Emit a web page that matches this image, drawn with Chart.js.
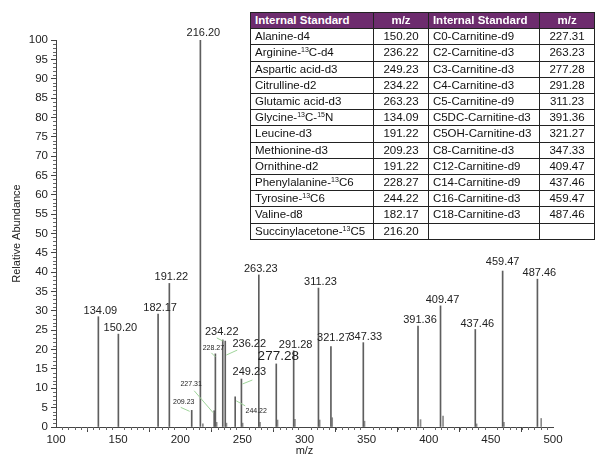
<!DOCTYPE html>
<html>
<head>
<meta charset="utf-8">
<script src="https://cdn.jsdelivr.net/npm/chart.js@4.4.1/dist/chart.umd.min.js"></script>
<style>
  html, body { margin: 0; padding: 0; background: #fff; }
  #wrap { position: relative; width: 595px; height: 462px; overflow: hidden; }
  #wrap canvas { position: absolute; left: 0; top: 0; }
  #stdTable {
    position: absolute; left: 250px; top: 12px;
    border-collapse: collapse; table-layout: fixed;
    font-family: "Liberation Sans", Arial, sans-serif; font-size: 11.5px; color: #111;
    border: 1.5px solid #222;
  }
  #stdTable th, #stdTable td {
    border: 1px solid #222; padding: 0 4px; height: 15.2px; line-height: 15.2px;
    white-space: nowrap; overflow: hidden;
  }
  #stdTable th { background: #6d2c6e; color: #fff; font-weight: bold; text-align: left; }
  #stdTable th.num, #stdTable td.num { text-align: center; }
  #stdTable sup { font-size: 7px; line-height: 0; vertical-align: 4px; }
</style>
</head>
<body>
<div id="wrap">
  <canvas id="chart" width="595" height="462"></canvas>
  <table id="stdTable">
    <colgroup><col style="width:125px"><col style="width:60px"><col style="width:113px"><col style="width:60px"></colgroup>
    <thead><tr><th>Internal Standard</th><th class="num">m/z</th><th>Internal Standard</th><th class="num">m/z</th></tr></thead>
    <tbody></tbody>
  </table>
</div>
<script>
// spectrum peaks (m/z, relative abundance)
const peakMz    = [134.09, 150.20, 182.17, 191.22, 209.23, 216.20, 227.31, 228.27, 234.22, 236.22, 244.22, 249.23,
                   263.23, 277.28, 291.28, 311.23, 321.27, 347.33, 391.36, 409.47, 437.46, 459.47, 487.46];
const peakAbund = [28.5, 24.0, 29.2, 37.1, 4.3, 100, 4.2, 18.9, 22.5, 22.2, 7.8, 12.4,
                   39.3, 16.3, 19.7, 35.9, 20.8, 21.8, 26.1, 31.3, 25.2, 40.3, 38.2];

// small unlabelled isotope / noise peaks
const noiseMz    = [218.2, 229.3, 237.2, 250.2, 264.2, 278.3, 292.3, 312.2, 322.3, 348.3, 393.4, 411.5, 438.5, 460.5, 490.5];
const noiseAbund = [0.8, 1.2, 1.0, 1.0, 1.2, 1.8, 2.0, 1.8, 2.4, 1.5, 1.9, 2.8, 0.8, 1.2, 2.2];

// table of internal standards
const aminoNames = ['Alanine-d4', 'Arginine-<sup>13</sup>C-d4', 'Aspartic acid-d3', 'Citrulline-d2', 'Glutamic acid-d3',
                    'Glycine-<sup>13</sup>C-<sup>15</sup>N', 'Leucine-d3', 'Methionine-d3', 'Ornithine-d2',
                    'Phenylalanine-<sup>13</sup>C6', 'Tyrosine-<sup>13</sup>C6', 'Valine-d8', 'Succinylacetone-<sup>13</sup>C5'];
const aminoMz    = ['150.20', '236.22', '249.23', '234.22', '263.23', '134.09', '191.22', '209.23', '191.22',
                    '228.27', '244.22', '182.17', '216.20'];
const carnNames  = ['C0-Carnitine-d9', 'C2-Carnitine-d3', 'C3-Carnitine-d3', 'C4-Carnitine-d3', 'C5-Carnitine-d9',
                    'C5DC-Carnitine-d3', 'C5OH-Carnitine-d3', 'C8-Carnitine-d3', 'C12-Carnitine-d9',
                    'C14-Carnitine-d9', 'C16-Carnitine-d3', 'C18-Carnitine-d3', ''];
const carnMz     = ['227.31', '263.23', '277.28', '291.28', '311.23', '391.36', '321.27', '347.33', '409.47',
                    '437.46', '459.47', '487.46', ''];

// label placement: offset of text centre from peak top, optional green leader line
const labelLayout = {
  '209.23': { size: 7, dx: -8, dy: -8, leader: [-11, -3, -2, 1] },
  '227.31': { size: 7, dx: -23, dy: -27, leader: [-20, -20, -1, 2] },
  '228.27': { size: 7, dx: -2, dy: -6, leader: [-4, -1, 0, 3] },
  '234.22': { dx: -1, dy: -8, leader: [-6, -2, 0, 1] },
  '236.22': { dx: 24, dy: 3, leader: [12, 9, 1, 14] },
  '244.22': { size: 7, dx: 21, dy: 14, leader: [1, 4, 10, 9] },
  '249.23': { dx: 8, dy: -7, leader: [1, 5, 11, 1] },
  '277.28': { size: 13.5, dx: 2, dy: -8 },
  '321.27': { dx: 3, dy: -9 },
  '459.47': { dx: 0, dy: -9 },
  '216.20': { dx: 3, dy: -7 },
};

const tbody = document.querySelector('#stdTable tbody');
aminoNames.forEach((n, i) => {
  const tr = document.createElement('tr');
  tr.innerHTML = `<td>${n}</td><td class="num">${aminoMz[i]}</td><td>${carnNames[i]}</td><td class="num">${carnMz[i]}</td>`;
  tbody.appendChild(tr);
});

const FONT = '"Liberation Sans", Arial, sans-serif';

const minorTicks = {
  id: 'minorTicks',
  afterDraw(chart) {
    const { ctx, scales: { x, y } } = chart;
    ctx.save();
    ctx.strokeStyle = '#666';
    ctx.lineWidth = 1;
    ctx.beginPath();
    for (let v = 0; v <= 100; v++) {
      if (v % 5 === 0) continue;
      const py = Math.round(y.getPixelForValue(v)) + 0.5;
      ctx.moveTo(x.left - 3, py); ctx.lineTo(x.left, py);
    }
    for (let v = 100; v <= 500; v += 5) {
      if (v % 50 === 0) continue;
      const px = Math.round(x.getPixelForValue(v)) + 0.5;
      ctx.moveTo(px, y.bottom); ctx.lineTo(px, y.bottom + 3);
    }
    ctx.stroke();
    ctx.restore();
  }
};

const peakLabels = {
  id: 'peakLabels',
  afterDatasetsDraw(chart) {
    const { ctx } = chart;
    const meta = chart.getDatasetMeta(0);
    ctx.save();
    meta.data.forEach((bar, i) => {
      const key = peakMz[i].toFixed(2);
      const lay = labelLayout[key] || {};
      const px = bar.x, py = bar.y;
      if (lay.leader) {
        const l = lay.leader;
        ctx.strokeStyle = '#9fd49a';
        ctx.lineWidth = 1;
        ctx.beginPath();
        ctx.moveTo(px + l[0], py + l[1]);
        ctx.lineTo(px + l[2], py + l[3]);
        ctx.stroke();
      }
      ctx.fillStyle = '#222';
      ctx.font = `${lay.size || 11}px ${FONT}`;
      ctx.textAlign = 'center';
      ctx.textBaseline = 'middle';
      ctx.fillText(key, px + (lay.dx ?? 2), py + (lay.dy ?? -6));
    });
    ctx.restore();
  }
};

new Chart(document.getElementById('chart'), {
  type: 'bar',
  data: {
    datasets: [
      { data: peakMz.map((m, i) => ({ x: m, y: peakAbund[i] })), backgroundColor: '#5e5e5e', barThickness: 1, grouped: false },
      { data: noiseMz.map((m, i) => ({ x: m, y: noiseAbund[i] })), backgroundColor: '#8a8a8a', barThickness: 1, grouped: false },
    ]
  },
  options: {
    responsive: false,
    animation: false,
    layout: { padding: { top: 40, right: 42, left: 0, bottom: 0 } },
    plugins: { legend: { display: false }, tooltip: { enabled: false } },
    scales: {
      x: {
        type: 'linear', min: 100, max: 500, offset: false,
        grid: { drawOnChartArea: false, tickLength: 5, color: '#444' },
        border: { color: '#444' },
        ticks: { stepSize: 50, padding: 1, color: '#222', font: { family: FONT, size: 11.5 }, maxRotation: 0 },
        title: { display: true, text: 'm/z', color: '#222', font: { family: FONT, size: 11 }, padding: { top: 0, bottom: 4 } },
        afterFit(s) { s.height = 35; }
      },
      y: {
        min: 0, max: 100,
        grid: { drawOnChartArea: false, tickLength: 5, color: '#444' },
        border: { color: '#444' },
        ticks: { stepSize: 5, padding: 3, color: '#222', font: { family: FONT, size: 11.5 } },
        title: { display: true, text: 'Relative Abundance', color: '#222', font: { family: FONT, size: 11 }, padding: { top: 10, bottom: 0 } },
        afterFit(s) { s.width = 56; }
      }
    }
  },
  plugins: [minorTicks, peakLabels]
});
</script>
</body>
</html>
